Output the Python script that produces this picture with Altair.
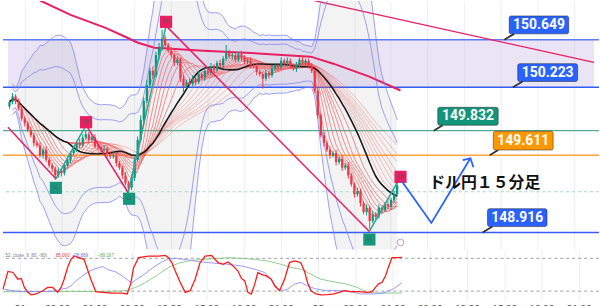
import altair as alt
import pandas as pd

# ---------------- data ----------------
close = [150.09,150.14,150.10,150.03,149.94,149.90,149.84,149.79,149.72,149.70,
         149.61,149.66,149.57,149.52,149.49,149.43,149.47,149.45,149.52,149.57,
         149.63,149.66,149.72,149.70,149.77,149.80,149.75,149.77,149.69,149.68,
         149.66,149.67,149.62,149.60,149.61,149.54,149.50,149.43,149.36,149.32,
         149.41,149.57,149.75,149.93,150.10,150.24,150.37,150.33,150.51,150.57,
         150.66,150.60,150.55,150.51,150.44,150.47,150.30,150.23,150.27,150.25,
         150.30,150.27,150.34,150.31,150.37,150.35,150.41,150.38,150.44,150.42,
         150.48,150.53,150.50,150.51,150.47,150.52,150.49,150.45,150.46,150.42,
         150.41,150.36,150.34,150.30,150.35,150.33,150.39,150.42,150.40,150.46,
         150.44,150.46,150.41,150.39,150.42,150.47,150.44,150.46,150.41,150.37,
         150.19,149.97,149.79,149.72,149.66,149.61,149.63,149.55,149.58,149.50,
         149.52,149.43,149.35,149.26,149.29,149.18,149.10,149.14,149.02,149.08,
         149.06,149.14,149.12,149.17,149.15,149.21,149.26,149.34]
first_open = 150.05
hi_wick = [0.02,0.03,0.02,0.02,0.03,0.02,0.02,0.03,0.02,0.02,
           0.03,0.02,0.03,0.02,0.02,0.02,0.03,0.02,0.02,0.03,
           0.02,0.03,0.02,0.04,0.03,0.04,0.02,0.02,0.03,0.02,
           0.02,0.03,0.02,0.02,0.03,0.02,0.02,0.02,0.03,0.02,
           0.03,0.02,0.03,0.04,0.03,0.05,0.03,0.04,0.03,0.05,
           0.08,0.03,0.02,0.03,0.02,0.03,0.02,0.03,0.02,0.03,
           0.03,0.02,0.03,0.02,0.03,0.02,0.03,0.02,0.02,0.03,
           0.02,0.07,0.03,0.02,0.03,0.02,0.03,0.02,0.02,0.03,
           0.02,0.03,0.02,0.02,0.03,0.02,0.03,0.02,0.02,0.03,
           0.02,0.03,0.02,0.02,0.03,0.02,0.03,0.02,0.02,0.03,
           0.02,0.03,0.02,0.03,0.02,0.03,0.02,0.03,0.02,0.03,
           0.02,0.03,0.02,0.02,0.03,0.02,0.02,0.03,0.02,0.03,
           0.02,0.03,0.02,0.02,0.03,0.02,0.03,0.03]
lo_wick = [0.02,0.02,0.03,0.02,0.02,0.03,0.02,0.02,0.03,0.02,
           0.02,0.03,0.02,0.02,0.03,0.04,0.02,0.03,0.02,0.02,
           0.03,0.02,0.02,0.03,0.02,0.02,0.03,0.02,0.02,0.03,
           0.02,0.02,0.03,0.02,0.02,0.03,0.02,0.03,0.02,0.05,
           0.02,0.03,0.02,0.02,0.03,0.02,0.02,0.03,0.02,0.02,
           0.02,0.03,0.02,0.02,0.03,0.02,0.03,0.05,0.02,0.03,
           0.02,0.03,0.02,0.02,0.03,0.02,0.02,0.03,0.02,0.02,
           0.03,0.02,0.02,0.03,0.02,0.02,0.03,0.02,0.02,0.03,
           0.02,0.03,0.02,0.09,0.02,0.03,0.02,0.02,0.03,0.02,
           0.02,0.03,0.02,0.02,0.03,0.02,0.02,0.03,0.02,0.02,
           0.02,0.03,0.02,0.03,0.02,0.03,0.02,0.03,0.02,0.03,
           0.02,0.03,0.02,0.03,0.02,0.03,0.02,0.03,0.07,0.02,
           0.03,0.02,0.03,0.02,0.02,0.03,0.02,0.02]

# long moving average (pink, thick) read at candle positions
malong_i = [7.8, 10.4, 20.0, 31.5, 37.9, 42.1, 47.5, 63.5, 82.7, 98.7, 106.1, 117.9, 128.1]
malong_p = [151.033, 150.997, 150.872, 150.756, 150.676, 150.622, 150.577, 150.551,
            150.524, 150.497, 150.434, 150.318, 150.193]
# straight trend line upper right
trend_i = [95.5, 191.5]
trend_p = [151.027, 150.446]
# zigzag pivots
zz_i = [-0.5, 15.2, 25.1, 38.9, 51.3, 117.9, 128.1]
zz_p = [149.863, 149.399, 149.881, 149.274, 150.774, 148.926, 149.417]
# pivot markers
mk_i = [51.3, 25.1, 128.1, 15.2, 39.2, 117.9]
mk_p = [150.81, 149.908, 149.417, 149.318, 149.220, 148.854]
mk_t = ["HH", "LH", "LH", "LL", "LL", "LL"]
mk_c = ["#e91e63", "#e91e63", "#e91e63", "#15977b", "#15977b", "#15977b"]
# horizontal levels
levels = [150.649, 150.223, 149.832, 149.611, 148.916]
level_text = ["150.649", "150.223", "149.832", "149.611", "148.916"]
level_colors = ["#5b7bf7", "#2f5df5", "#4fae92", "#ffa53a", "#3b5bf6"]
level_widths = [1.5, 1.5, 1.3, 1.5, 1.5]
box_colors = ["#2962ff", "#2962ff", "#12957a", "#ff9800", "#2962ff"]
box_x1 = [163.7, 166.5, 140.3, 158.5, 156.6]
box_x2 = [183.2, 186.1, 160.1, 178.1, 176.1]
box_y1 = [150.863, 150.434, 150.042, 149.827, 149.131]
box_y2 = [150.702, 150.274, 149.881, 149.658, 148.970]
tail_x1 = [165.3, 168.1, 141.9, 160.1, 158.2]
tail_x2 = [162.1, 164.9, 139.0, 157.3, 155.0]
dashed_level = 149.283
# projected path (blue arrow)
proj_i = [128.6, 138.2, 151.0]
proj_p = [149.375, 149.003, 149.584]
head_i = [148.5, 151.0, 152.0]
head_p = [149.568, 149.584, 149.503]
# RCI oscillator lines
red_i = [-0.5,1.1,2.7,4.3,5.4,6.4,7.5,8.6,10.2,12.3,13.9,15.5,17.1,18.2,19.2,20.3,21.4,22.4,24.0,25.6,
         26.7,27.8,29.4,31.5,34.7,37.9,39.5,40.6,41.6,43.2,46.4,49.6,51.8,52.8,53.9,55.0,56.6,58.2,59.8,61.4,
         63.0,64.6,66.7,68.8,70.4,72.0,73.6,75.2,76.3,77.4,78.4,79.5,80.6,81.6,82.7,84.3,85.9,87.0,88.6,90.2,
         91.8,93.4,95.0,95.5,96.6,97.6,98.7,100.3,101.9,104.0,106.2,107.8,109.4,111.5,114.2,116.8,118.4,119.5,120.6,121.6,
         122.7,123.8,124.8,126.4,128.0]
red_v = [-70,16,11,-22,-18,-62,-86,-98,-94,-78,-62,-62,-86,-62,-22,35,75,91,83,75,
         27,-22,-83,-86,-90,-90,-94,-46,35,83,91,91,94,83,59,18,-38,-86,-78,-22,
         59,91,94,59,51,62,43,18,-18,-30,-86,-94,-46,11,2,-6,-22,-54,-78,-22,
         59,67,62,56,18,-38,-78,-94,-98,-97,-94,-86,-78,-83,-83,-86,-83,-62,-43,-38,
         -6,43,83,83,85]
blue_i = [-0.5,2.7,5.9,10.2,13.4,17.1,18.2,19.8,21.4,23.0,25.1,27.2,29.4,31.5,33.6,35.8,37.9,40.0,41.1,42.2,
          44.3,46.4,48.6,50.7,52.8,55.0,59.2,63.5,67.8,72.0,76.3,80.6,83.8,85.9,88.0,89.6,91.2,93.4,95.5,97.6,
          99.8,101.9,104.0,108.3,112.6,114.7,119.0,122.2,125.4,128.0]
blue_v = [-70,-78,-82,-82,-82,-78,-70,-67,-54,-30,-6,16,30,40,23,14,-6,-30,-38,-25,
          -6,18,43,62,78,80,72,62,56,51,43,27,11,-22,-67,-78,-70,-46,-38,-54,
          -67,-74,-78,-78,-86,-94,-94,-88,-68,-39]
green_i = [-0.5,10.2,20.8,31.5,39.0,42.2,45.4,49.6,52.8,56.0,59.2,63.5,67.8,72.0,76.3,80.6,84.8,89.1,92.3,95.5,
           98.7,101.9,106.2,110.4,113.6,116.8,121.1,128.0]
green_v = [-83,-83,-82,-82,-78,-62,-38,2,35,56,67,75,78,83,80,75,67,51,35,27,
           2,-22,-35,-46,-62,-86,-90,-89]
osc_levels = [80, -80]
time_labels = ["21", "03:00", "06:00", "09:00", "12:00", "15:00", "18:00", "21:00",
               "22", "03:00", "06:00", "09:00", "12:00", "15:00", "18:00", "21:00"]
grid_start, grid_step = 4.94, 12

green_periods = [3, 5, 7, 9, 11, 13, 16]
green_colors = ["#1b5e20", "#2e7d32", "#43a047", "#7cb342", "#9e9d24", "#c0ca33", "#fbc02d"]
red_periods = [22, 24, 26, 28, 30, 33, 36, 40]

# ---------------- tables ----------------
opens = [first_open] + close[:-1]
cdf = pd.DataFrame({
    "idx": list(range(len(close))),
    "open": opens,
    "close": close,
    "high": [max(o, c) + w for o, c, w in zip(opens, close, hi_wick)],
    "low": [min(o, c) - w for o, c, w in zip(opens, close, lo_wick)],
})

XS = alt.Scale(domain=[-0.5, 191.5], nice=False, zero=False)
YS = alt.Scale(domain=[148.765, 150.997], nice=False, zero=False)
OS = alt.Scale(domain=[-123.6, 123.6], nice=False, zero=False)
grid_vals = [grid_start + grid_step * k for k in range(len(time_labels))]
ax_main = alt.Axis(values=grid_vals, labels=False, ticks=False, domain=False, grid=True,
                   gridColor="#eceff5", title=None)
label_arr = "[" + ",".join("'%s'" % t for t in time_labels) + "]"
ax_osc = alt.Axis(values=grid_vals, ticks=False, tickSize=0, domain=False, grid=True,
                  gridColor="#eceff5", title=None, labelFontSize=10, labelColor="#4a4a4a",
                  labelPadding=4, labelFont="Roboto",
                  labelExpr=label_arr + "[round((datum.value - %s) / %s)]" % (grid_start, grid_step))


def xm(f):
    return alt.X(f, type="quantitative", scale=XS, axis=ax_main)


def ym(f):
    return alt.Y(f, type="quantitative", scale=YS, axis=None)


def xo(f):
    return alt.X(f, type="quantitative", scale=XS, axis=ax_osc)


def yo(f):
    return alt.Y(f, type="quantitative", scale=OS, axis=None)


srt = [alt.SortField("idx")]

band = alt.Chart(pd.DataFrame({"x1": [-0.5], "x2": [191.5], "y1": [levels[1]], "y2": [levels[0]]})).mark_rect(
    color="#d1c4e9", opacity=0.45).encode(x=xm("x1"), x2="x2", y=ym("y1"), y2="y2")

bb = alt.Chart(cdf).transform_window(
    bbm="mean(close)", bbs="stdev(close)", frame=[-20, 0], sort=srt
).transform_filter("isValid(datum.bbs) && isFinite(datum.bbs)").transform_calculate(
    up2="datum.bbm + 2.7*datum.bbs", dn2="datum.bbm - 2.7*datum.bbs",
    up3="datum.bbm + 3.9*datum.bbs", dn3="datum.bbm - 3.9*datum.bbs")
bb_fill = bb.mark_area(color="#9e9e9e", opacity=0.12, clip=True).encode(
    x=xm("idx"), y=ym("up3"), y2=alt.Y2("dn3"))
bb_lines = bb.transform_fold(["up2", "dn2", "up3", "dn3"], as_=["band", "v"]).mark_line(
    color="#7c80f7", strokeWidth=1, opacity=0.75, clip=True).encode(
    x=xm("idx"), y=ym("v"), detail="band:N")

ldf = pd.DataFrame({"price": levels, "c": level_colors, "w": level_widths})
level_lines = alt.Chart(ldf).mark_rule().encode(
    y=ym("price"), color=alt.Color("c:N", scale=None), strokeWidth=alt.StrokeWidth("w:Q", scale=None))
dashed = alt.Chart(pd.DataFrame({"price": [dashed_level]})).mark_rule(
    strokeDash=[3, 3], color="#9fd8c8", strokeWidth=1).encode(y=ym("price"))

malong = alt.Chart(pd.DataFrame({"i": malong_i, "p": malong_p})).mark_line(
    color="#e91e63", strokeWidth=2, clip=True).encode(x=xm("i"), y=ym("p"))
trend = alt.Chart(pd.DataFrame({"i": trend_i, "p": trend_p})).mark_line(
    color="#e91e63", strokeWidth=1.3, clip=True).encode(x=xm("i"), y=ym("p"))


def ribbon(periods, colors, opacity):
    r = alt.Chart(cdf)
    for p in periods:
        r = r.transform_window(frame=[-(p - 1), 0], sort=srt, **{"ma%d" % p: "mean(close)"})
    names = ["ma%d" % p for p in periods]
    return r.transform_fold(names, as_=["ma", "v"]).mark_line(strokeWidth=1, opacity=opacity).encode(
        x=xm("idx"), y=ym("v"),
        color=alt.Color("ma:N", scale=alt.Scale(domain=names, range=colors), legend=None))


reds = ribbon(red_periods, ["#f06060"] * len(red_periods), 0.4)
greens = ribbon(green_periods, green_colors, 0.7)
black = alt.Chart(cdf).transform_window(ma20="mean(close)", frame=[-19, 0], sort=srt).mark_line(
    color="#1a1a1a", strokeWidth=1.6).encode(x=xm("idx"), y=ym("ma20"))

col = alt.condition("datum.close >= datum.open", alt.value("#089981"), alt.value("#f23645"))
wicks = alt.Chart(cdf).mark_rule(strokeWidth=1).encode(x=xm("idx"), y=ym("low"), y2="high", color=col)
bodies = alt.Chart(cdf).mark_bar(size=2.3).encode(x=xm("idx"), y=ym("open"), y2="close", color=col)

zrows = []
for k in range(len(zz_i) - 1):
    c = "#e91e63" if zz_p[k + 1] < zz_p[k] else "#26a69a"
    zrows.append({"seg": k, "i": zz_i[k], "p": zz_p[k], "c": c})
    zrows.append({"seg": k, "i": zz_i[k + 1], "p": zz_p[k + 1], "c": c})
zig = alt.Chart(pd.DataFrame(zrows)).mark_line(strokeWidth=1.5).encode(
    x=xm("i"), y=ym("p"), detail="seg:N", color=alt.Color("c:N", scale=None))

mdf = pd.DataFrame({"i": mk_i, "p": mk_p, "t": mk_t, "c": mk_c})
markers = alt.Chart(mdf).mark_square(size=150, opacity=1).encode(
    x=xm("i"), y=ym("p"), color=alt.Color("c:N", scale=None))
marker_txt = alt.Chart(mdf).mark_text(fontSize=4.5, color="#555555").encode(x=xm("i"), y=ym("p"), text="t")

spark = alt.Chart(pd.DataFrame({"i": [128.1], "p": [148.827]})).mark_point(
    shape="circle", size=45, color="#ba68c8", strokeWidth=1, filled=False).encode(x=xm("i"), y=ym("p"))

bdf = pd.DataFrame({"x1": box_x1, "x2": box_x2, "y1": box_y1, "y2": box_y2, "c": box_colors,
                    "t": level_text, "tx1": tail_x1, "tx2": tail_x2, "ty1": box_y2, "ty2": levels})
bdf["cx"] = (bdf["x1"] + bdf["x2"]) / 2
bdf["cy"] = (bdf["y1"] + bdf["y2"]) / 2
tails = alt.Chart(bdf).mark_rule(strokeWidth=1.8, color="#333333").encode(
    x=xm("tx1"), x2="tx2", y=ym("ty1"), y2="ty2")
boxes = alt.Chart(bdf).mark_rect(cornerRadius=2, stroke="#1c1c1c", strokeWidth=0.8, strokeOpacity=0.6).encode(
    x=xm("x1"), x2="x2", y=ym("y1"), y2="y2", color=alt.Color("c:N", scale=None))
box_txt = alt.Chart(bdf).mark_text(font="Roboto", fontSize=14, fontWeight="bold", color="white").encode(
    x=xm("cx"), y=ym("cy"), text="t")

proj = alt.Chart(pd.DataFrame({"i": proj_i, "p": proj_p, "o": [0, 1, 2]})).mark_line(
    color="#2962ff", strokeWidth=1.8).encode(x=xm("i"), y=ym("p"), order="o")
head = alt.Chart(pd.DataFrame({"i": head_i, "p": head_p, "o": [0, 1, 2]})).mark_line(
    color="#2962ff", strokeWidth=1.8).encode(x=xm("i"), y=ym("p"), order="o")

title_txt = alt.Chart(pd.DataFrame({"i": [155.7], "p": [149.363], "t": ["ドル円１５分足"]})).mark_text(
    font="Noto Sans CJK JP", fontSize=16, fontWeight="bold", color="#111111").encode(
    x=xm("i"), y=ym("p"), text="t")

main = alt.layer(band, bb_fill, level_lines, dashed, malong, trend, bb_lines, reds, greens, black,
                 wicks, bodies, zig, markers, marker_txt, spark, tails, boxes, box_txt, proj, head,
                 title_txt).properties(width=600, height=250)

# ---------------- oscillator ----------------
olv = alt.Chart(pd.DataFrame({"v": osc_levels})).mark_rule(
    strokeDash=[3, 3], color="#9e9e9e", strokeWidth=1).encode(y=yo("v"))
green_l = alt.Chart(pd.DataFrame({"i": green_i, "v": green_v})).mark_line(
    color="#7cc47c", strokeWidth=1, opacity=0.85).encode(x=xo("i"), y=yo("v"))
blue_l = alt.Chart(pd.DataFrame({"i": blue_i, "v": blue_v})).mark_line(
    color="#8888ff", strokeWidth=1, opacity=0.85).encode(x=xo("i"), y=yo("v"))
red_l = alt.Chart(pd.DataFrame({"i": red_i, "v": red_v})).mark_line(
    color="#ff1a1a", strokeWidth=1.3).encode(x=xo("i"), y=yo("v"))
hdr = pd.DataFrame({"i": [-0.5, 16.5, 21.6, 29.9], "v": [90, 90, 90, 90],
                    "t": [", 52, close, 9, 80, -80)", "85.000", "\u221238.889", "\u221289.167"],
                    "c": ["#787b86", "#f23645", "#6f6ff0", "#4caf50"]})
hdr_txt = alt.Chart(hdr).mark_text(fontSize=4.6, align="left", baseline="middle").encode(
    x=xo("i"), y=yo("v"), text="t", color=alt.Color("c:N", scale=None))

osc = alt.layer(olv, green_l, blue_l, red_l, hdr_txt).properties(width=600, height=51)

chart = alt.vconcat(main, osc, spacing=0).properties(padding=0, background="white").configure_view(stroke=None)
chart.save("out.html", embed_options={"renderer": "svg", "actions": False})
